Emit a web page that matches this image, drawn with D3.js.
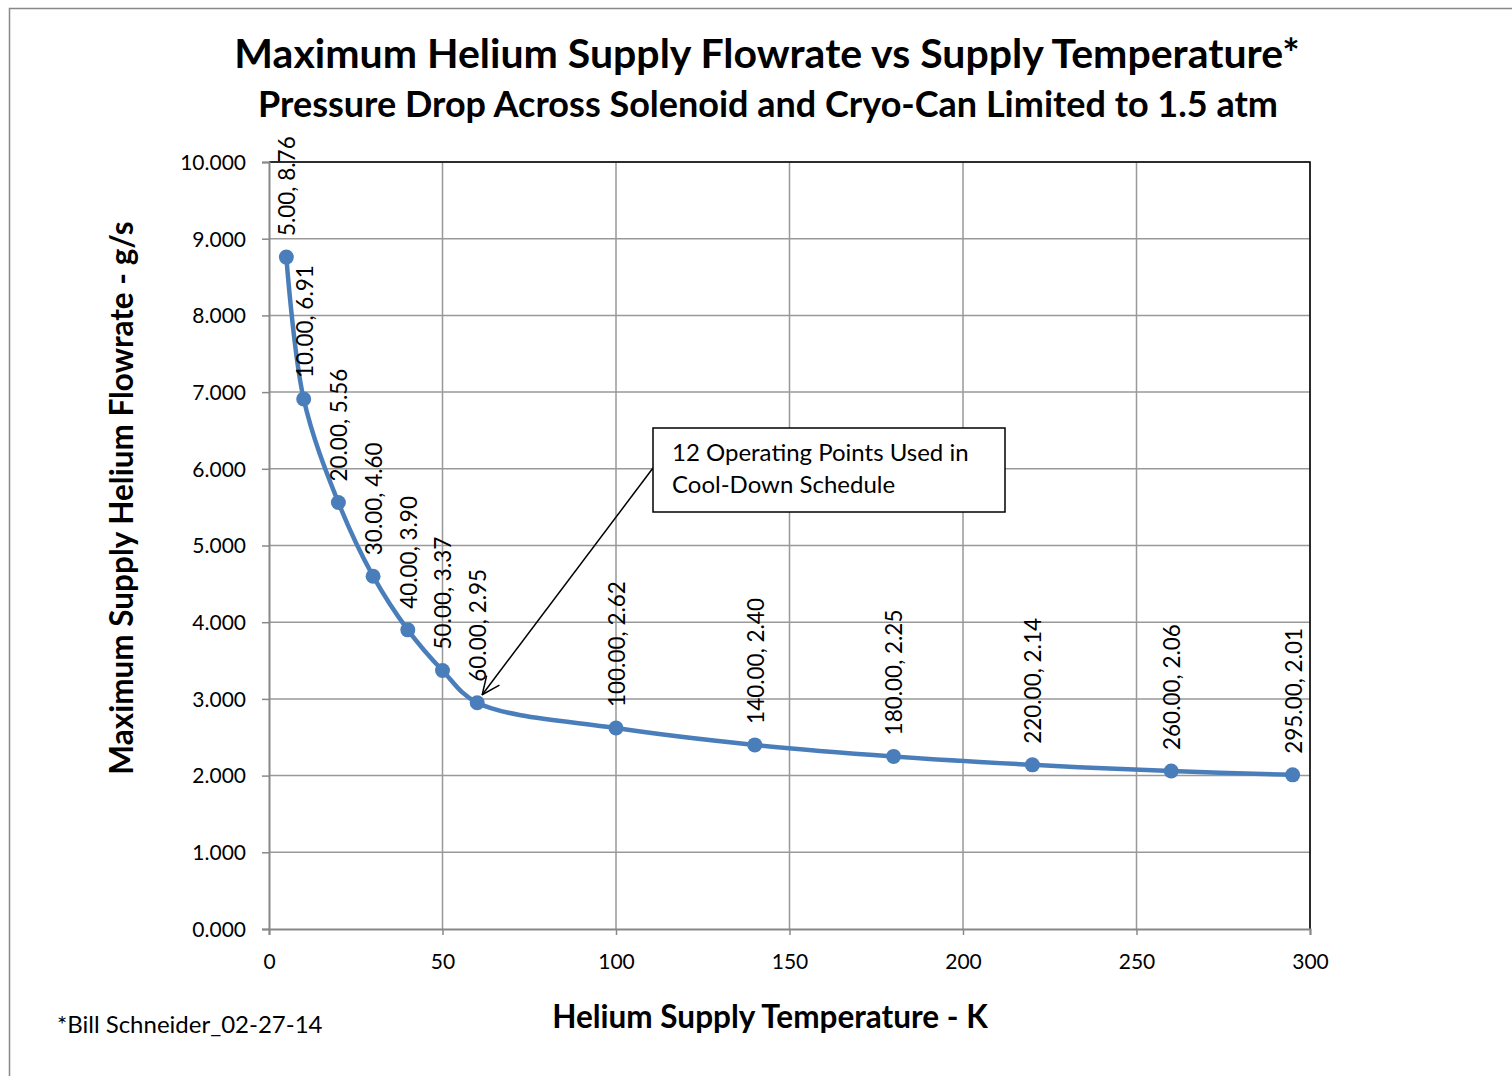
<!DOCTYPE html>
<html>
<head>
<meta charset="utf-8">
<script src="https://cdn.jsdelivr.net/npm/d3@7"></script>
<style>
  body { margin: 0; background: #fff; }
  svg { font-family: Lato, "Open Sans", sans-serif; }
</style>
</head>
<body>
<div id="chart"></div>
<script>
// Chart data
var temps = [5, 10, 20, 30, 40, 50, 60, 100, 140, 180, 220, 260, 295];
var flows = [8.76, 6.91, 5.56, 4.60, 3.90, 3.37, 2.95, 2.62, 2.40, 2.25, 2.14, 2.06, 2.01];
var xTicks = [0, 50, 100, 150, 200, 250, 300];
var yTicks = [0, 1, 2, 3, 4, 5, 6, 7, 8, 9, 10];

var titleText = "Maximum Helium Supply Flowrate vs Supply Temperature*";
var subtitleText = "Pressure Drop Across Solenoid and Cryo-Can Limited to 1.5 atm";
var xLabelText = "Helium Supply Temperature - K";
var yLabelText = "Maximum Supply Helium Flowrate - g/s";
var noteText = ["12 Operating Points Used in", "Cool-Down Schedule"];
var footText = "*Bill Schneider_02-27-14";

var points = temps.map(function(t, i) { return { t: t, f: flows[i] }; });

var svgWidth = 1512;
var svgHeight = 1076;

var chartMargin = { top: 162, right: 202, bottom: 147, left: 269 };
var chartWidth = svgWidth - chartMargin.left - chartMargin.right;
var chartHeight = svgHeight - chartMargin.top - chartMargin.bottom;

var svg = d3.select("#chart")
  .append("svg")
  .attr("width", svgWidth)
  .attr("height", svgHeight);

// outer frame
svg.append("rect")
  .attr("x", 9.5).attr("y", 8.5)
  .attr("width", svgWidth + 10).attr("height", svgHeight + 10)
  .attr("fill", "none")
  .attr("stroke", "#888")
  .attr("stroke-width", 1.5);

// titles
svg.append("text")
  .attr("x", 767).attr("y", 68)
  .attr("text-anchor", "middle")
  .style("font-size", "41px").style("font-weight", "bold")
  .text(titleText);

svg.append("text")
  .attr("x", 768).attr("y", 117)
  .attr("text-anchor", "middle")
  .style("font-size", "36px").style("font-weight", "bold")
  .text(subtitleText);

var chartGroup = svg.append("g")
  .attr("transform", `translate(${chartMargin.left}, ${chartMargin.top})`);

var xScale = d3.scaleLinear().domain([0, 300]).range([0, chartWidth]);
var yScale = d3.scaleLinear().domain([0, 10]).range([chartHeight, 0]);

// gridlines
chartGroup.append("g")
  .selectAll("line.hgrid")
  .data(yTicks.slice(1))
  .enter().append("line")
  .attr("x1", 0).attr("x2", chartWidth)
  .attr("y1", d => yScale(d)).attr("y2", d => yScale(d))
  .attr("stroke", "#999").attr("stroke-width", 1.5);

chartGroup.append("g")
  .selectAll("line.vgrid")
  .data(xTicks.slice(1))
  .enter().append("line")
  .attr("x1", d => xScale(d)).attr("x2", d => xScale(d))
  .attr("y1", 0).attr("y2", chartHeight)
  .attr("stroke", "#999").attr("stroke-width", 1.5);

// plot area border (top and right black)
chartGroup.append("path")
  .attr("d", `M0,0H${chartWidth}V${chartHeight}`)
  .attr("fill", "none")
  .attr("stroke", "#000")
  .attr("stroke-width", 1.5);

// axes
var yAxis = d3.axisLeft(yScale)
  .tickValues(yTicks)
  .tickSize(7)
  .tickPadding(16)
  .tickFormat(d3.format(".3f"));
var xAxis = d3.axisBottom(xScale)
  .tickValues(xTicks)
  .tickSize(6)
  .tickPadding(18)
  .tickFormat(d3.format("d"));

var yAxisG = chartGroup.append("g").call(yAxis);
var xAxisG = chartGroup.append("g")
  .attr("transform", `translate(0, ${chartHeight})`)
  .call(xAxis);

[yAxisG, xAxisG].forEach(function(g) {
  g.select(".domain").attr("stroke", "#888").attr("stroke-width", 2);
  g.selectAll(".tick line").attr("stroke", "#888").attr("stroke-width", 1.5);
  g.selectAll(".tick text")
    .style("font-size", "21px")
    .style("font-family", "Lato, 'Open Sans', sans-serif")
    .attr("fill", "#000");
});
yAxisG.selectAll(".tick text").attr("dy", "0.35em");
xAxisG.selectAll(".tick text").attr("dy", "0.75em");

// axis titles
svg.append("text")
  .attr("x", 770).attr("y", 1028)
  .attr("text-anchor", "middle")
  .style("font-size", "31.5px").style("font-weight", "bold")
  .text(xLabelText);

svg.append("text")
  .attr("transform", "translate(133, 498) rotate(-90)")
  .attr("text-anchor", "middle")
  .style("font-size", "31.5px").style("font-weight", "bold")
  .text(yLabelText);

// smoothed series line
var line = d3.line()
  .x(d => xScale(d.t))
  .y(d => yScale(d.f))
  .curve(d3.curveCatmullRom.alpha(0.5));

chartGroup.append("path")
  .datum(points)
  .attr("d", line)
  .attr("fill", "none")
  .attr("stroke", "#4a7ebb")
  .attr("stroke-width", 4.5);

chartGroup.selectAll("circle")
  .data(points)
  .enter().append("circle")
  .attr("cx", d => xScale(d.t))
  .attr("cy", d => yScale(d.f))
  .attr("r", 7.5)
  .attr("fill", "#4a7ebb");

// data labels, rotated above each point
var fmt = d3.format(".2f");
chartGroup.selectAll("text.dlabel")
  .data(points)
  .enter().append("text")
  .attr("class", "dlabel")
  .attr("transform", d => `translate(${xScale(d.t) + 1}, ${yScale(d.f) - 21}) rotate(-90)`)
  .attr("dy", "0.35em")
  .style("font-size", "22.5px")
  .text(d => fmt(d.t) + ", " + fmt(d.f));

// annotation callout
var box = { x: 653, y: 428, w: 352, h: 84 };
var target = points[6];

svg.append("defs").append("marker")
  .attr("id", "arrow")
  .attr("viewBox", "0 0 20 20")
  .attr("refX", 19).attr("refY", 10)
  .attr("markerWidth", 20).attr("markerHeight", 20)
  .attr("markerUnits", "userSpaceOnUse")
  .attr("orient", "auto")
  .append("path")
  .attr("d", "M1,2 L19,10 L1,18")
  .attr("fill", "none")
  .attr("stroke", "#000")
  .attr("stroke-width", 1.5);

svg.append("line")
  .attr("x1", box.x).attr("y1", box.y + 40)
  .attr("x2", chartMargin.left + xScale(target.t) + 5)
  .attr("y2", chartMargin.top + yScale(target.f) - 8)
  .attr("stroke", "#000")
  .attr("stroke-width", 1.5)
  .attr("marker-end", "url(#arrow)");

svg.append("rect")
  .attr("x", box.x).attr("y", box.y)
  .attr("width", box.w).attr("height", box.h)
  .attr("fill", "#fff")
  .attr("stroke", "#000")
  .attr("stroke-width", 1.5);

svg.append("text")
  .attr("x", box.x + 19).attr("y", box.y + 33)
  .style("font-size", "24px")
  .selectAll("tspan")
  .data(noteText)
  .enter().append("tspan")
  .attr("x", box.x + 19)
  .attr("dy", (d, i) => i === 0 ? 0 : 32)
  .text(d => d);

// footnote
svg.append("text")
  .attr("x", 57).attr("y", 1033)
  .style("font-size", "24px")
  .text(footText);
</script>
</body>
</html>
